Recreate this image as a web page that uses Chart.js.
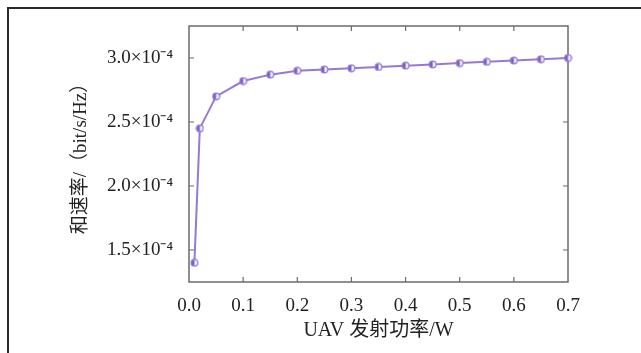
<!DOCTYPE html>
<html>
<head>
<meta charset="utf-8">
<script src="https://cdn.jsdelivr.net/npm/chart.js@4"></script>
<style>
  html, body { margin: 0; padding: 0; background: #fff; }
  #wrap { width: 641px; height: 353px; position: relative; }
</style>
</head>
<body>
<div id="wrap"><canvas id="rate-chart" width="641" height="353"></canvas></div>
<script>
// UAV transmit power (W) and sum rate (bit/s/Hz)
const powerW = [0.01, 0.02, 0.05, 0.1, 0.15, 0.2, 0.25, 0.3, 0.35, 0.4, 0.45, 0.5, 0.55, 0.6, 0.65, 0.7];
const sumRate = [1.40e-4, 2.45e-4, 2.70e-4, 2.82e-4, 2.87e-4, 2.90e-4, 2.91e-4, 2.92e-4, 2.93e-4,
                 2.94e-4, 2.95e-4, 2.96e-4, 2.97e-4, 2.98e-4, 2.99e-4, 3.00e-4];
const xTicks = [0, 0.1, 0.2, 0.3, 0.4, 0.5, 0.6, 0.7];
const yTicks = [1.5e-4, 2.0e-4, 2.5e-4, 3.0e-4];

const serif = '"Liberation Serif", "Noto Sans CJK SC", serif';
const purple = '#9679d6';

// half filled marker like the original figure
function makeMarker() {
    const c = document.createElement('canvas');
    c.width = 9; c.height = 9;
    const g = c.getContext('2d');
    g.fillStyle = '#f3eefc';
    g.beginPath(); g.arc(4.5, 4.5, 3.4, 0, Math.PI * 2); g.fill();
    g.fillStyle = '#7d5cc4';
    g.beginPath(); g.arc(4.5, 4.5, 3.4, Math.PI / 2, Math.PI * 1.5); g.fill();
    g.strokeStyle = purple; g.lineWidth = 1.2;
    g.beginPath(); g.arc(4.5, 4.5, 3.4, 0, Math.PI * 2); g.stroke();
    return c;
}

// outer frame, plot box and inward ticks on all sides
const boxPlugin = {
    id: 'boxPlugin',
    beforeDatasetsDraw(chart) {
        const ctx = chart.ctx;
        const a = chart.chartArea;
        const xs = chart.scales.x, ys = chart.scales.y;
        ctx.save();
        ctx.strokeStyle = '#2b2b2b';
        ctx.lineWidth = 2;
        ctx.beginPath();
        ctx.moveTo(8, 353); ctx.lineTo(8, 8); ctx.lineTo(641, 8);
        ctx.stroke();

        ctx.strokeStyle = '#6b6b6b';
        ctx.lineWidth = 1.5;
        ctx.strokeRect(a.left, a.top, a.right - a.left, a.bottom - a.top);

        ctx.lineWidth = 1.2;
        ctx.beginPath();
        xs.ticks.forEach(t => {
            const px = xs.getPixelForValue(t.value);
            if (px <= a.left + 1 || px >= a.right - 1) return;
            ctx.moveTo(px, a.bottom); ctx.lineTo(px, a.bottom - 5);
            ctx.moveTo(px, a.top); ctx.lineTo(px, a.top + 5);
        });
        ys.ticks.forEach(t => {
            const py = ys.getPixelForValue(t.value);
            ctx.moveTo(a.left, py); ctx.lineTo(a.left + 5, py);
            ctx.moveTo(a.right, py); ctx.lineTo(a.right - 5, py);
        });
        ctx.stroke();
        ctx.restore();
    }
};

const ctx = document.getElementById('rate-chart').getContext('2d');
new Chart(ctx, {
    type: 'line',
    data: {
        datasets: [{
            data: powerW.map((p, i) => ({ x: p, y: sumRate[i] })),
            borderColor: purple,
            borderWidth: 2,
            pointStyle: makeMarker(),
            pointRadius: 4,
            tension: 0,
            clip: false,
        }],
    },
    options: {
        responsive: false,
        animation: false,
        layout: { padding: { top: 26, right: 73, left: 70, bottom: 10 } },
        plugins: { legend: { display: false }, tooltip: { enabled: false } },
        scales: {
            x: {
                type: 'linear',
                min: 0,
                max: 0.7,
                afterBuildTicks: s => { s.ticks = xTicks.map(v => ({ value: v })); },
                afterFit: s => { s.height = 61; },
                grid: { display: false },
                border: { display: false },
                ticks: {
                    padding: 5,
                    color: '#222',
                    font: { family: serif, size: 19 },
                    callback: v => v.toFixed(1),
                },
                title: {
                    display: true,
                    text: 'UAV 发射功率/W',
                    color: '#222',
                    font: { family: serif, size: 20 },
                    padding: { top: 0, bottom: 0 },
                },
            },
            y: {
                type: 'linear',
                min: 1.25e-4,
                max: 3.25e-4,
                afterBuildTicks: s => { s.ticks = yTicks.map(v => ({ value: v })); },
                afterFit: s => { s.width = 119; },
                grid: { display: false },
                border: { display: false },
                ticks: {
                    padding: 8,
                    color: '#222',
                    font: { family: serif, size: 19 },
                    callback: v => (v * 1e4).toFixed(1) + '×10⁻⁴',
                },
                title: {
                    display: true,
                    text: '和速率/（bit/s/Hz）',
                    color: '#222',
                    font: { family: serif, size: 19 },
                    padding: { top: 0, bottom: 0 },
                },
            },
        },
    },
    plugins: [boxPlugin],
});
</script>
</body>
</html>
